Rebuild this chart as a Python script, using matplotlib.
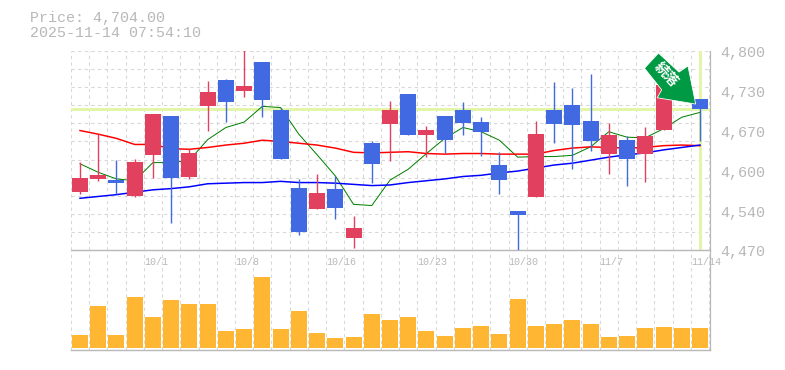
import matplotlib
matplotlib.use("Agg")
import matplotlib.pyplot as plt
from matplotlib.patches import Polygon
from matplotlib.transforms import Affine2D

title_price = "Price: 4,704.00"
title_time = "2025-11-14 07:54:10"

opens = [4566, 4588, 4586, 4560, 4628, 4692, 4591, 4709, 4752, 4733, 4781, 4702, 4573, 4538, 4571, 4490, 4647, 4679,
         4728, 4661, 4692, 4702, 4682, 4611, 4535, 4558, 4702, 4710, 4684, 4629, 4652, 4629, 4669, 4718, 4720]
highs = [4616, 4662, 4619, 4621, 4695, 4692, 4638, 4750, 4753, 4801, 4781, 4705, 4588, 4596, 4593, 4527, 4651, 4717,
         4728, 4676, 4692, 4715, 4690, 4633, 4535, 4684, 4748, 4738, 4761, 4680, 4659, 4674, 4743, 4757, 4720]
lows = [4563, 4585, 4563, 4558, 4590, 4515, 4588, 4667, 4682, 4723, 4690, 4621, 4495, 4538, 4522, 4474, 4581, 4618,
        4661, 4625, 4631, 4661, 4626, 4563, 4470, 4558, 4647, 4604, 4634, 4596, 4576, 4583, 4669, 4718, 4651]
closes = [4590, 4595, 4581, 4616, 4695, 4590, 4631, 4732, 4715, 4742, 4719, 4621, 4500, 4565, 4540, 4507, 4613, 4702,
          4661, 4669, 4652, 4680, 4666, 4586, 4528, 4662, 4679, 4677, 4651, 4661, 4621, 4659, 4743, 4757, 4704]
ma_short = [4613, 4599, 4588, 4585, 4615, 4615, 4619, 4653, 4673, 4682, 4708, 4706, 4662, 4628, 4593, 4546, 4544, 4586,
            4604, 4630, 4655, 4673, 4666, 4652, 4624, 4625, 4625, 4627, 4641, 4666, 4657, 4656, 4671, 4690, 4698]
ma_mid = [4668, 4662, 4655, 4645, 4645, 4638, 4637, 4640, 4644, 4647, 4652, 4650, 4647, 4644, 4639, 4632, 4631, 4632,
          4633, 4630, 4629, 4630, 4630, 4629, 4629, 4629, 4635, 4639, 4641, 4640, 4639, 4640, 4643, 4644, 4643]
ma_long = [4556, 4559, 4562, 4566, 4570, 4572, 4575, 4580, 4581, 4582, 4582, 4584, 4582, 4582, 4581, 4579, 4577, 4578,
           4582, 4585, 4588, 4592, 4594, 4598, 4601, 4606, 4611, 4614, 4619, 4624, 4628, 4631, 4636, 4640, 4644]
volumes = [13, 42, 13, 51, 31, 48, 44, 44, 17, 19, 71, 19, 37, 15, 10, 11, 34, 28,
           31, 17, 12, 20, 22, 14, 49, 22, 24, 28, 24, 11, 12, 20, 21, 20, 20]
price_ticks = [4470, 4536, 4602, 4668, 4734, 4800]
price_labels = ["4,470", "4,540", "4,600", "4,670", "4,730", "4,800"]
date_idx = [4, 9, 14, 19, 24, 29, 34]
date_labels = ["10/1", "10/8", "10/16", "10/23", "10/30", "11/7", "11/14"]
badge_text = "続落"

W, H = 785, 370
RED, BLUE = "#E2405F", "#4169E1"
GREY, GRID = "#B8B8B8", "#D8D8D8"
px = 0.72  # one pixel in points at dpi 100
n = len(closes)

fig = plt.figure(figsize=(W / 100, H / 100), dpi=100)
L, R = 70.5, 709.5


def make_ax(top, bottom):
    return fig.add_axes([L / W, 1 - bottom / H, (R - L) / W, (bottom - top) / H])


ax = make_ax(50.7, 250.3)
vx = make_ax(250.3, 349.8)
xlim = ((L - 80) / 18.235, (R - 80) / 18.235)
for a in (ax, vx):
    a.set_xlim(*xlim)
    a.set_xticks([])
    a.set_yticks([])
    a.patch.set_alpha(0)
    for s in a.spines.values():
        s.set_visible(False)
    for k in range(n + 1):
        a.axvline(k - 0.5, color=GRID, lw=px * 1.1, dashes=(3, 3), zorder=0)
    a.spines["right"].set_visible(True)
    a.spines["right"].set_color(GREY)
    a.spines["right"].set_linewidth(px * 1.2)
    a.spines["bottom"].set_visible(True)
    a.spines["bottom"].set_color(GREY)
    a.spines["bottom"].set_linewidth(px * 1.4)

ax.set_ylim(4470, 4800)
for v in range(4470, 4801, 30):
    ax.axhline(v, color=GRID, lw=px * 1.1, dashes=(3, 3), zorder=0)

ax.axhline(closes[-1], color="#E2F5A9", lw=3 * px, zorder=1)
ax.axvline(n - 1, ymin=0.005, ymax=0.995, color="#E2F5A9", lw=3 * px, zorder=1)

xs = list(range(n))
ax.plot(xs, ma_short, color="#008000", lw=1.0 * px, zorder=2)
ax.plot(xs, ma_mid, color="#FF0000", lw=1.5 * px, zorder=2)
ax.plot(xs, ma_long, color="#0000FF", lw=1.5 * px, zorder=2)

bw = 16 / 18.235
for i, (o, h, l, c) in enumerate(zip(opens, highs, lows, closes)):
    col = RED if c >= o else BLUE
    ax.vlines(i, l, h, color=col, lw=1.4 * px, zorder=3)
    ax.bar(i, abs(c - o), bottom=min(o, c), width=bw, color=col, lw=0, zorder=4)

vx.set_ylim(-2, 97.5)
vx.bar(xs, volumes, width=bw, color="#FFB733", lw=0, zorder=3)

for v, s in zip(price_ticks, price_labels):
    ax.annotate(s, xy=(1, v), xycoords=("axes fraction", "data"), xytext=(10.5, -2.2),
                textcoords="offset pixels", color=GREY, family="Liberation Mono",
                fontsize=15 * px, va="center", ha="left", annotation_clip=False)

for i, s in zip(date_idx, date_labels):
    vx.annotate(s, xy=(i - 0.5, 1), xycoords=("data", "axes fraction"), xytext=(0, -12),
                textcoords="offset pixels", color=GREY, family="Liberation Mono",
                fontsize=10 * px, va="center", ha="left", zorder=5, annotation_clip=False)

fig.text(30 / W, 1 - 18 / H, title_price, color=GREY, family="Liberation Mono", fontsize=15 * px, va="center")
fig.text(30 / W, 1 - 33 / H, title_time, color=GREY, family="Liberation Mono", fontsize=15 * px, va="center")

# Badge arrow, anchored on the last close; offsets in pixels, y up
fig.canvas.draw()
ax_x, ax_y = ax.transData.transform((n - 1, closes[-1]))
offsets = [(-55.5, 40.5), (-41.5, 55.7), (-21, 36.7), (-12, 42.8), (-4.3, 4.7), (-42.7, 11), (-38.3, 19)]
badge = Polygon(offsets, closed=True, facecolor="#009944", edgecolor="white", lw=0.8 * px,
                transform=Affine2D().translate(ax_x, ax_y), zorder=10)
fig.add_artist(badge)
fig.text((ax_x - 33.5) / W, (ax_y + 33.7) / H, badge_text, color="white", rotation=-47,
         rotation_mode="anchor", family=["Noto Sans CJK JP", "DejaVu Sans"], fontweight="bold",
         fontsize=14 * px, ha="center", va="center", zorder=11)

fig.savefig("out.png", dpi=100)
